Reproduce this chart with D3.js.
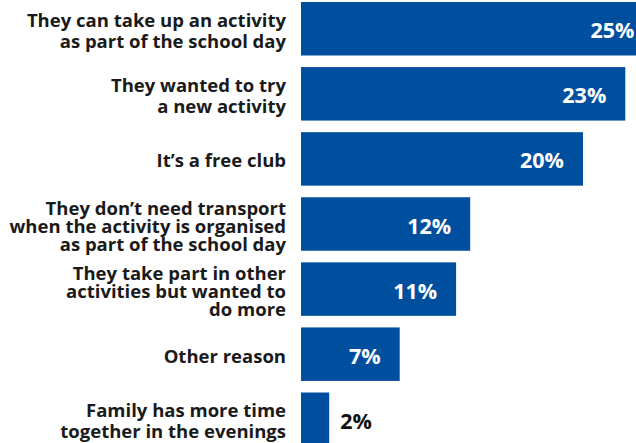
<!DOCTYPE html>
<html>
<head>
<meta charset="utf-8">
<script src="https://cdn.jsdelivr.net/npm/d3@7"></script>
<style>
  html, body { margin: 0; padding: 0; background: #fff; overflow: hidden; }
  svg { display: block; }
</style>
</head>
<body>
<svg id="chart" width="636" height="443"></svg>
<script>
// Reasons for taking part
const categories = [
  "They can take up an activity\nas part of the school day",
  "They wanted to try\na new activity",
  "It\u2019s a free club",
  "They don\u2019t need transport\nwhen the activity is organised\nas part of the school day",
  "They take part in other\nactivities but wanted to\ndo more",
  "Other reason",
  "Family has more time\ntogether in the evenings"
];
const values = [25, 23, 20, 12, 11, 7, 2];
const valueLabels = ["25%", "23%", "20%", "12%", "11%", "7%", "2%"];

const svg = d3.select("#chart");
const barColor = "#004f9f";
const fontFamily = "'Open Sans', Lato, sans-serif";

const x = d3.scaleLinear().domain([0, 25]).range([301, 653.5]);
const y = d3.scaleBand()
  .domain(d3.range(categories.length))
  .range([2, 446])
  .paddingInner(0.178)
  .paddingOuter(0);

const rows = svg.selectAll("g.row")
  .data(values.map((v, i) => ({ v, i, label: categories[i], text: valueLabels[i] })))
  .join("g")
  .attr("class", "row");

rows.append("rect")
  .attr("x", x(0))
  .attr("y", d => y(d.i))
  .attr("width", d => x(d.v) - x(0))
  .attr("height", y.bandwidth())
  .attr("fill", barColor);

// category labels, right aligned beside the bars
rows.append("text")
  .attr("x", 286)
  .attr("text-anchor", "end")
  .attr("font-family", fontFamily)
  .attr("font-weight", 700)
  .attr("font-size", 18.5)
  .attr("fill", "#1a1a1a")
  .each(function (d) {
    const lines = d.label.split("\n");
    const lh = lines.length > 2 ? 18 : 21;
    const cy = y(d.i) + y.bandwidth() / 2;
    const first = cy - (lines.length - 1) * lh / 2 + 8.5;
    d3.select(this).selectAll("tspan")
      .data(lines)
      .join("tspan")
      .attr("x", 286)
      .attr("y", (l, k) => first + k * lh)
      .text(l => l);
  });

// value labels: inside the bar when it is wide enough, otherwise just after it
rows.append("text")
  .attr("font-family", fontFamily)
  .attr("font-weight", 700)
  .attr("font-size", 21.5)
  .attr("dominant-baseline", "central")
  .attr("y", d => y(d.i) + y.bandwidth() / 2 + 1)
  .each(function (d) {
    const inside = x(d.v) - x(0) > 60;
    d3.select(this)
      .attr("x", inside ? x(d.v) - 19 : x(d.v) + 11)
      .attr("text-anchor", inside ? "end" : "start")
      .attr("fill", inside ? "#ffffff" : "#111111")
      .text(d.text);
  });
</script>
</body>
</html>
